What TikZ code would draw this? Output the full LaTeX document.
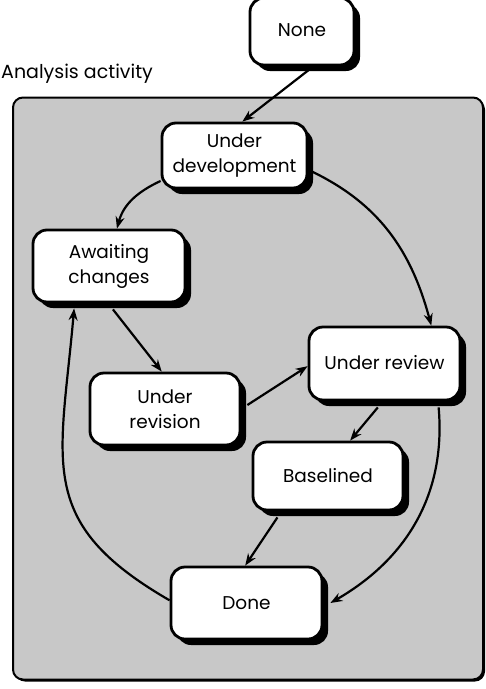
\documentclass[tikz,border=0pt]{standalone}
\usepackage{fontspec}
\setmainfont{Poppins}
\usetikzlibrary{arrows.meta,shadows,calc}
\definecolor{panel}{RGB}{200,200,200}
\begin{document}
\begin{tikzpicture}[x=1pt,y=-1pt,
  statebox/.style={draw, line width=2.8pt, fill=white, rounded corners=14pt,
    align=center, font=\fontsize{18.5}{25}\selectfont, inner sep=0pt,
    drop shadow={shadow xshift=6pt, shadow yshift=-6pt, fill=black, opacity=1}},
  conn/.style={line width=2.2pt, -{Stealth[length=12pt,width=9pt]}}]
\useasboundingbox (0,0) rectangle (486,689);
\node[draw, line width=2pt, fill=panel, rounded corners=10pt, minimum width=470pt, minimum height=582pt, inner sep=0pt,
  drop shadow={shadow xshift=2pt, shadow yshift=-2pt, fill=black, opacity=1}] (panel) at (248,388.5) {};
\node[anchor=west, font=\fontsize{19}{22}\selectfont, inner sep=0pt] (lbl) at (1,74) {Analysis activity};
\node[statebox, minimum width=104pt, minimum height=67pt] (none) at (302,31.5) {\raisebox{3pt}{None}};
\node[statebox, minimum width=145pt, minimum height=65pt] (ud) at (234.5,155.5) {Under\\development};
\node[statebox, minimum width=152pt, minimum height=72pt] (ac) at (109,266) {Awaiting\\changes};
\node[statebox, minimum width=150pt, minimum height=72pt] (urev) at (165,409) {Under\\revision};
\node[statebox, minimum width=151pt, minimum height=73pt] (ur) at (384.5,363.5) {\raisebox{3pt}{Under review}};
\node[statebox, minimum width=150pt, minimum height=68pt] (bl) at (328,476) {Baselined};
\node[statebox, minimum width=151pt, minimum height=72pt] (done) at (246.5,603) {Done};
\draw[conn] (none.-72) -- (ud.77);
\draw[conn] (ud.199) to[out=205,in=75] (ac.78);
\draw[conn] (ud.-11) to[out=-25,in=105] (ur.39);
\draw[conn] ($(ac.-84)+(0,6)$) -- (urev.95);
\draw[conn] ($(urev.3)+(6,0)$) -- (ur.182);
\draw[conn] ($(ur.-100)+(0,6)$) -- (bl.58);
\draw[conn] ($(bl.-145)+(0,6)$) -- (done.92);
\draw[conn] ($(ur.-35)+(0,6)$) to[out=-85,in=30] ($(done.east)+(7,0)$);
\draw[conn] (done.178) to[out=150,in=-95,looseness=1.3] ($(ac.-133)+(0,5)$);
\end{tikzpicture}
\end{document}
